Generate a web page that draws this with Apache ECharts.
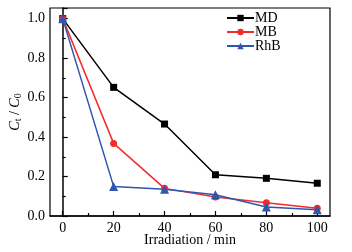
<!DOCTYPE html>
<html>
<head>
<meta charset="utf-8">
<script src="https://cdn.jsdelivr.net/npm/echarts@6/dist/echarts.min.js"></script>
<style>
  html, body { margin: 0; padding: 0; background: #fff; }
  #chart { width: 352px; height: 252px; }
</style>
</head>
<body>
<div id="chart"></div>
<script>
const times = [0, 20, 40, 60, 80, 100]
const mdValues = [1.0, 0.652, 0.466, 0.209, 0.191, 0.166]
const mbValues = [1.0, 0.368, 0.14, 0.096, 0.067, 0.039]
const rhbValues = [1.0, 0.15, 0.135, 0.108, 0.046, 0.032]
const xMajor = [0, 20, 40, 60, 80, 100]
const xMinor = [10, 30, 50, 70, 90]

const font = '"Liberation Serif", "Times New Roman", serif'
const pair = (vals) => times.map((t, i) => [t, vals[i]])

const myChart = echarts.init(document.getElementById('chart'))
myChart.setOption({
  backgroundColor: '#fff',
  animation: false,
  textStyle: { fontFamily: font },
  grid: {
    left: 50, top: 8, right: 22, bottom: 36,
    outerBoundsMode: 'none', containLabel: false,
    show: true, borderColor: '#000', borderWidth: 1.2
  },
  legend: {
    orient: 'vertical',
    left: 221, top: 6,
    itemWidth: 27, itemHeight: 8, itemGap: 0,
    textStyle: { fontFamily: font, fontSize: 14, color: '#000', padding: [0, 0, 0, -4] },
    data: ['MD', 'MB', 'RhB']
  },
  xAxis: [
    {
      type: 'value', min: -5, max: 105,
      name: 'Irradiation / min', nameLocation: 'middle', nameGap: 17, nameMoveOverlap: false,
      nameTextStyle: { fontFamily: font, fontSize: 14, color: '#000' },
      splitLine: { show: false },
      axisLine: { lineStyle: { color: '#000', width: 1.5 } },
      axisTick: { inside: true, length: 5, customValues: xMajor, lineStyle: { color: '#000', width: 1.2 } },
      axisLabel: { customValues: xMajor, fontFamily: font, fontSize: 14, color: '#000', margin: 5 }
    },
    {
      type: 'value', min: -5, max: 105, position: 'bottom',
      splitLine: { show: false },
      axisLine: { show: false },
      axisTick: { inside: true, length: 3, customValues: xMinor, lineStyle: { color: '#000', width: 1.2 } },
      axisLabel: { show: false }
    }
  ],
  yAxis: {
    type: 'value', min: 0, max: 1.054, interval: 0.2,
    name: '{i|C}{s|t}{n| / }{i|C}{s|0}',
    nameLocation: 'middle', nameGap: 27, nameRotate: 90, nameMoveOverlap: false,
    nameTextStyle: {
      color: '#000',
      rich: {
        i: { fontFamily: font, fontStyle: 'italic', fontSize: 14, color: '#000' },
        s: { fontFamily: font, fontSize: 10, color: '#000', verticalAlign: 'bottom', padding: [6, 0, 0, 0] },
        n: { fontFamily: font, fontSize: 14, color: '#000' }
      }
    },
    splitLine: { show: false },
    axisLine: { show: true, lineStyle: { color: '#000', width: 1.5 } },
    axisTick: { inside: true, length: 5, lineStyle: { color: '#000', width: 1.2 } },
    minorTick: { show: true, splitNumber: 2, length: 3, lineStyle: { color: '#000', width: 1.2 } },
    minorSplitLine: { show: false },
    axisLabel: {
      fontFamily: font, fontSize: 14, color: '#000', margin: 5,
      formatter: (v) => v > 1.01 ? '' : v.toFixed(1)
    }
  },
  series: [
    {
      name: 'MD', type: 'line', data: pair(mdValues),
      symbol: 'rect', symbolSize: 7,
      itemStyle: { color: '#000' }, lineStyle: { color: '#000', width: 1.5 }
    },
    {
      name: 'MB', type: 'line', data: pair(mbValues),
      symbol: 'circle', symbolSize: 7,
      itemStyle: { color: '#f22b2b' }, lineStyle: { color: '#f22b2b', width: 1.5 }
    },
    {
      name: 'RhB', type: 'line', data: pair(rhbValues),
      symbol: 'triangle', symbolSize: 9,
      itemStyle: { color: '#2f55b0' }, lineStyle: { color: '#2f55b0', width: 1.5 }
    }
  ]
})
</script>
</body>
</html>
